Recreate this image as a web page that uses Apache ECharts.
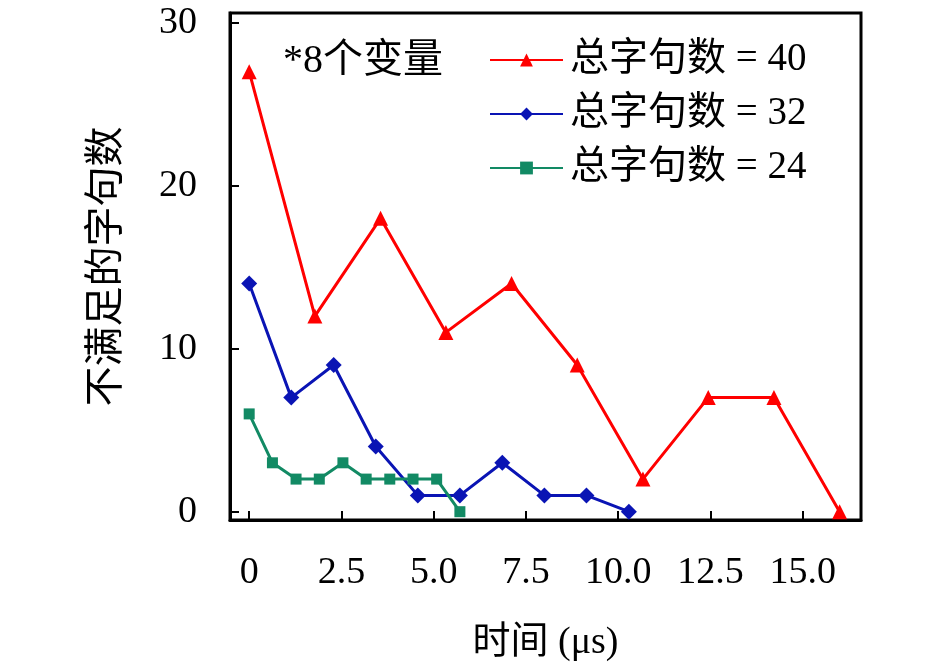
<!DOCTYPE html>
<html>
<head>
    <meta charset="utf-8">
    <title>不满足的字句数</title>
    <script src="https://cdn.jsdelivr.net/npm/echarts@6/dist/echarts.min.js"></script>
    <style>
        html, body { margin: 0; padding: 0; background: #fff; }
        #chart1 { width: 945px; height: 672px; }
    </style>
</head>
<body>
<div id="chart1"></div>
<script>
    // 数据
    var names = ['总字句数 = 40', '总字句数 = 32', '总字句数 = 24'];
    var time40 = [0, 1.78, 3.56, 5.33, 7.11, 8.89, 10.67, 12.44, 14.22, 16.0];
    var count40 = [27, 12, 18, 11, 14, 9, 2, 7, 7, 0];
    var time32 = [0, 1.14, 2.29, 3.43, 4.57, 5.71, 6.86, 8.0, 9.14, 10.29];
    var count32 = [14, 7, 9, 4, 1, 1, 3, 1, 1, 0];
    var time24 = [0, 0.63, 1.27, 1.9, 2.54, 3.17, 3.81, 4.44, 5.08, 5.71];
    var count24 = [6, 3, 2, 2, 3, 2, 2, 2, 2, 0];
    var xTicks = [0, 2.5, 5, 7.5, 10, 12.5, 15];
    var yTicks = [0, 10, 20, 30];

    var font = "'Liberation Serif', 'Noto Sans CJK SC', serif";

    function pairs(xs, ys) {
        var out = [];
        for (var i = 0; i < xs.length; i++) out.push([xs[i], ys[i]]);
        return out;
    }

    var myChart1 = echarts.init(document.getElementById('chart1'));
    myChart1.setOption({
        animation: false,
        grid: {
            left: 230, right: 84, top: 13, bottom: 152,
            show: true, borderColor: '#000', borderWidth: 3
        },
        legend: {
            left: 484, top: 35, orient: 'vertical',
            itemWidth: 73, itemHeight: 16, itemGap: 14,
            data: names,
            textStyle: { fontFamily: font, fontSize: 39, color: '#000', lineHeight: 40, padding: [0, 0, 0, 2] }
        },
        graphic: [{
            type: 'text', left: 283, top: 42,
            style: { text: '*8个变量', font: '40px ' + font, fill: '#000' }
        }],
        xAxis: {
            type: 'value', min: -0.52, max: 16.58,
            name: '时间 (μs)', nameLocation: 'middle', nameGap: 104,
            nameTextStyle: { fontFamily: font, fontSize: 38, color: '#000' },
            axisLine: { show: true, onZero: false, lineStyle: { color: '#000', width: 3 } },
            axisTick: { inside: true, length: 9, lineStyle: { color: '#000', width: 2 }, customValues: xTicks },
            axisLabel: {
                customValues: xTicks, margin: 34,
                fontFamily: font, fontSize: 38, color: '#000',
                formatter: function (v) { return v === 0 ? '0' : v.toFixed(1); }
            },
            splitLine: { show: false }
        },
        yAxis: {
            type: 'value', min: -0.51, max: 30.6,
            name: '不满足的字句数', nameLocation: 'middle', nameGap: 103,
            nameTextStyle: { fontFamily: font, fontSize: 40, color: '#000' },
            axisLine: { show: true, onZero: false, lineStyle: { color: '#000', width: 3 } },
            axisTick: { inside: true, length: 9, lineStyle: { color: '#000', width: 2 }, customValues: yTicks },
            axisLabel: {
                customValues: yTicks, margin: 33,
                fontFamily: font, fontSize: 38, color: '#000'
            },
            splitLine: { show: false }
        },
        series: [{
            name: names[0], type: 'line', data: pairs(time40, count40),
            symbol: 'triangle', symbolSize: 15,
            lineStyle: { color: '#ff0000', width: 3 },
            itemStyle: { color: '#ff0000' }
        }, {
            name: names[1], type: 'line', data: pairs(time32, count32),
            symbol: 'diamond', symbolSize: 16,
            lineStyle: { color: '#0a14b4', width: 3 },
            itemStyle: { color: '#0a14b4' }
        }, {
            name: names[2], type: 'line', data: pairs(time24, count24),
            symbol: 'rect', symbolSize: 11,
            lineStyle: { color: '#128a64', width: 3 },
            itemStyle: { color: '#128a64' }
        }]
    });
</script>
</body>
</html>
